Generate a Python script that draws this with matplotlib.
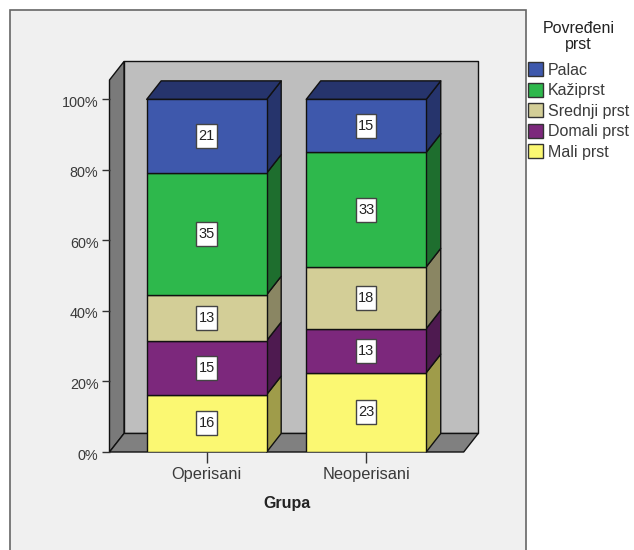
import matplotlib
matplotlib.use('Agg')
import matplotlib.pyplot as plt
from matplotlib.patches import Patch, Polygon, Rectangle
from matplotlib.transforms import ScaledTranslation
import numpy as np

plt.rcParams['font.family'] = ['Liberation Sans', 'DejaVu Sans']

groups = ['Operisani', 'Neoperisani']
# stacked bottom to top
segments = ['Mali prst', 'Domali prst', 'Srednji prst', 'Kažiprst', 'Palac']
# bar heights in percent
mali = [16.3, 22.5]
domali = [15.3, 12.5]
srednji = [13.0, 17.5]
kaziprst = [34.5, 32.5]
palac = [20.9, 15.0]
# numbers printed on the bars
mali_lab = [16, 23]
domali_lab = [15, 13]
srednji_lab = [13, 18]
kaziprst_lab = [35, 33]
palac_lab = [21, 15]
front_colors = ['#FBF872', '#7C287C', '#D3CE97', '#2EB84C', '#3E58AC']
side_colors = ['#9F9C4A', '#4E1A50', '#8A8663', '#1E6E2E', '#26346C']
top_color = '#26346C'
ytick_vals = [0, 20, 40, 60, 80, 100]

percents = np.array([mali, domali, srednji, kaziprst, palac])
bar_labels = [mali_lab, domali_lab, srednji_lab, kaziprst_lab, palac_lab]

text_col = '#3A3A3A'
edge = '#111111'

W, H = 634, 550
fig = plt.figure(figsize=(W / 100, H / 100), dpi=100, facecolor='white')

# grey chart panel, runs off the bottom of the picture
fig.add_artist(Rectangle((10 / W, -0.05), 516 / W, 1.05 - 10 / H, transform=fig.transFigure,
                         facecolor='#F0F0F0', edgecolor='#666666', linewidth=1.2, zorder=-1))

ax = fig.add_axes([109.5 / W, (H - 452) / H, 354.2 / W, 372 / H])
ax.set_xlim(-0.609, 1.611)
ax.set_ylim(0, 105.5)
ax.patch.set_visible(False)
for s in ax.spines.values():
    s.set_visible(False)

dx = 14.5 / 159.5
dy = 5.25
x0, x1 = ax.get_xlim()
ytop = ax.get_ylim()[1]
box_w = 20.5 / 159.5
box_h = 24 / 3.526


def face(points, color, z):
    ax.add_patch(Polygon(points, closed=True, facecolor=color, edgecolor=edge,
                         linewidth=1.0, zorder=z, clip_on=False, joinstyle='round'))


# box walls
face([(x0 + dx, dy), (x1 + dx, dy), (x1 + dx, ytop + dy), (x0 + dx, ytop + dy)], '#BEBEBE', 1)
face([(x0, 0), (x0 + dx, dy), (x0 + dx, ytop + dy), (x0, ytop)], '#7A7A7A', 1.1)
face([(x0, 0), (x1, 0), (x1 + dx, dy), (x0 + dx, dy)], '#808080', 1.2)

width = 120 / 159.5
pos = np.arange(len(groups))
bottom = np.zeros(len(groups))
for i, name in enumerate(segments):
    ax.bar(pos, percents[i], width, bottom=bottom, color=front_colors[i], edgecolor=edge,
           linewidth=1.0, zorder=3)
    for j, p in enumerate(pos):
        r = p + width / 2
        y0 = bottom[j]
        y1 = y0 + percents[i][j]
        mid = (y0 + y1) / 2
        face([(r, y0), (r + dx, y0 + dy), (r + dx, y1 + dy), (r, y1)], side_colors[i], 2.5)
        ax.add_patch(Rectangle((p - box_w / 2, mid - box_h / 2), box_w, box_h, facecolor='white',
                               edgecolor='#444444', linewidth=1.0, zorder=5))
        ax.text(p, mid, str(bar_labels[i][j]), ha='center', va='center', fontsize=10.5,
                color='#222222', zorder=6)
    bottom = bottom + percents[i]

for p in pos:
    l = p - width / 2
    r = p + width / 2
    face([(l, 100), (r, 100), (r + dx, 100 + dy), (l + dx, 100 + dy)], top_color, 2.6)

ax.set_xticks(pos)
ax.set_xticklabels(groups)
ax.set_yticks(ytick_vals)
ax.set_yticklabels(['%d%%' % v for v in ytick_vals])
ax.tick_params(axis='x', length=8, width=1.0, color='#333333', labelcolor=text_col, labelsize=11.8, pad=3)
ax.tick_params(axis='y', length=6, width=1.0, color='#333333', labelcolor=text_col, labelsize=10.4, pad=2)
down = ScaledTranslation(0, -2 / 100, fig.dpi_scale_trans)
for lab in ax.get_yticklabels():
    lab.set_transform(lab.get_transform() + down)
ax.set_xlabel('Grupa', fontsize=11.5, fontweight='bold', color='#222222', labelpad=10)

handles = [Patch(facecolor=front_colors[i], edgecolor='#333333', linewidth=1.0)
           for i in range(len(segments) - 1, -1, -1)]
labels = segments[::-1]
leg = fig.legend(handles, labels, title='Povređeni\nprst', frameon=False, loc='upper left',
                 bbox_to_anchor=(526 / W, 1 - 19 / H), borderaxespad=0, borderpad=0.15,
                 fontsize=11.5, title_fontsize=11.5, labelspacing=0.32, handlelength=0.92,
                 handleheight=0.95, handletextpad=0.3, labelcolor=text_col)
leg.get_title().set_color('#222222')
leg.get_title().set_multialignment('center')
leg.get_title().set_linespacing(1.05)
leg._legend_box.sep = 7.5

fig.savefig('out.png', dpi=100)
